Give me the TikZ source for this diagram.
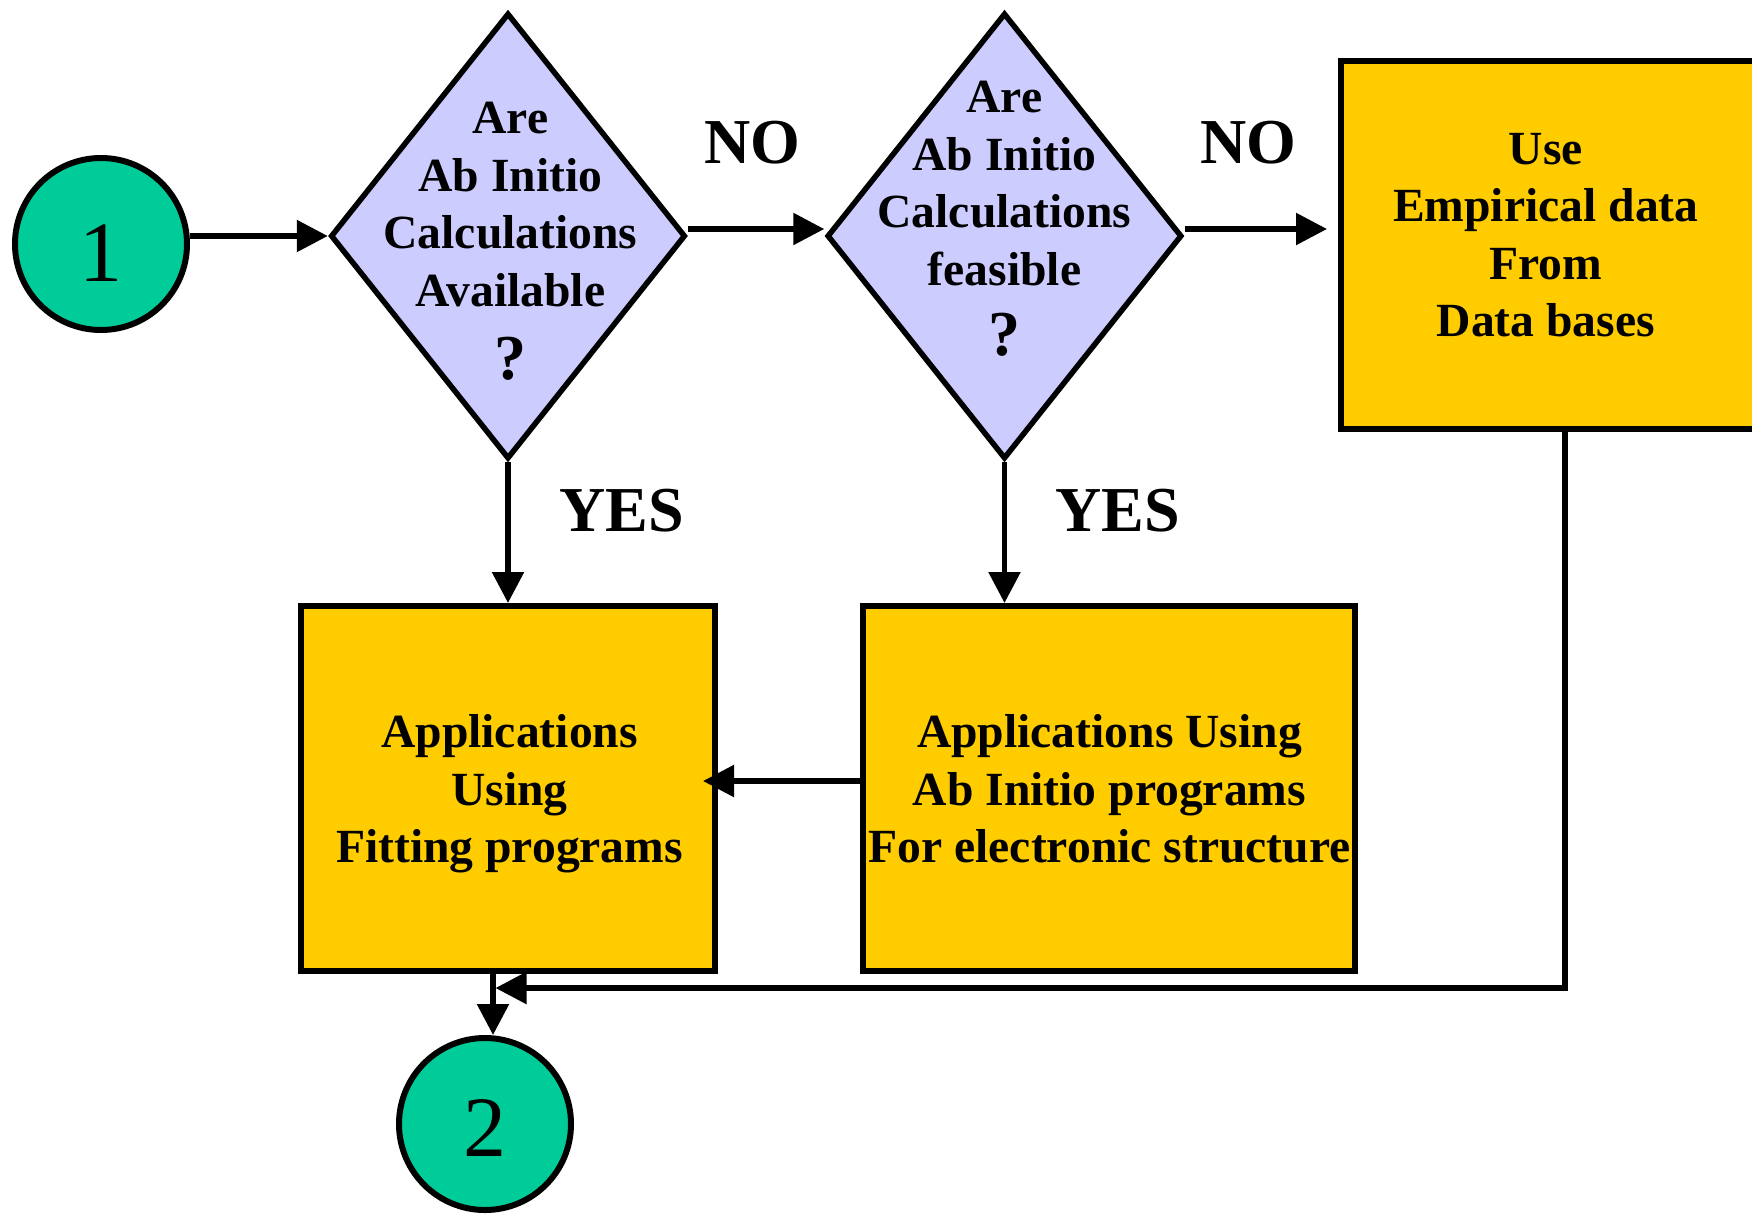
\documentclass[tikz,border=0pt]{standalone}
\usepackage{fontspec}
\setmainfont{Liberation Serif}
\usetikzlibrary{shapes.geometric,arrows.meta}
\definecolor{discgreen}{RGB}{0,204,153}
\definecolor{querylav}{RGB}{204,204,255}
\definecolor{stageamber}{RGB}{255,204,0}

\begin{document}
\begin{tikzpicture}[x=1pt,y=-1pt,
  disc/.style={circle,draw,line width=6pt,fill=discgreen,minimum size=172pt,inner sep=0pt},
  query/.style={diamond,draw,line width=5.5pt,fill=querylav,minimum width=355pt,minimum height=446pt,inner sep=0pt},
  stage/.style={rectangle,draw,line width=6pt,fill=stageamber,inner sep=0pt},
  body/.style={font=\fontsize{47.6}{57.5}\selectfont\bfseries,align=center,inner sep=0pt},
  answer/.style={font=\fontsize{64}{70}\selectfont\bfseries,inner sep=0pt},
  numeral/.style={font=\fontsize{86}{90}\selectfont,inner sep=0pt},
  flow/.style={line width=5.5pt,-{Triangle[length=31pt,width=31pt]}}
]
\useasboundingbox (0,0) rectangle (1752,1213);

% start and end connectors
\node[disc] (c1) at (101,244) {};
\node[numeral] (n1) at (101,253) {1};
\node[disc] (c2) at (485,1124) {};
\node[numeral] (n2) at (485,1128) {2};

% decisions
\node[query] (d1) at (508,236) {};
\node[body] (q1) at (510.5,204.5) {Are\\Ab Initio\\Calculations\\Available};
\node[answer] (m1) at (510.5,358.6) {?};
\node[query] (d2) at (1004.5,236) {};
\node[body] (q2) at (1004.5,183.5) {Are\\Ab Initio\\Calculations\\feasible};
\node[answer] (m2) at (1004.5,335) {?};

% process boxes
\node[stage,minimum width=419pt,minimum height=367.5pt] (e) at (1550.5,244.75) {};
\node[body] (te) at (1545.8,235) {Use\\Empirical data\\From\\Data bases};
\node[stage,minimum width=414pt,minimum height=365pt] (f) at (508,788.5) {};
\node[body] (tf) at (509.5,794) {Applications\\Using\\Fitting programs};
\node[stage,minimum width=492pt,minimum height=365pt] (a) at (1109,788.5) {};
\node[body] (ta) at (1109.5,789) {Applications Using\\Ab Initio programs\\For electronic structure};

% branch labels
\node[answer] (no1) at (752,143) {NO};
\node[answer] (no2) at (1248,143) {NO};
\node[answer] (yes1) at (622,511) {YES};
\node[answer] (yes2) at (1118,511) {YES};

% routing points
\coordinate (etip) at (1327,229);
\coordinate (ecorner) at (1565,988);
\coordinate (jx) at (493,988);

% connectors
\draw[flow] (c1.east |- d1.west) -- (d1.west);
\draw[flow] ([yshift=7pt]d1.east) -- ([yshift=7pt]d2.west);
\draw[flow] ([yshift=7pt]d2.east) -- (etip);
\draw[flow] (d1.south) -- (f.north);
\draw[flow] (d2.south) -- (d2.south |- a.north);
\draw[flow] ([yshift=7.5pt]a.west) -- ([xshift=-15pt,yshift=7.5pt]f.east);
\draw[flow] (e.south -| ecorner) -- (ecorner) -- ([xshift=2.5pt]jx);
\draw[flow] (f.south -| jx) -- (jx |- c2.north);
\end{tikzpicture}
\end{document}
